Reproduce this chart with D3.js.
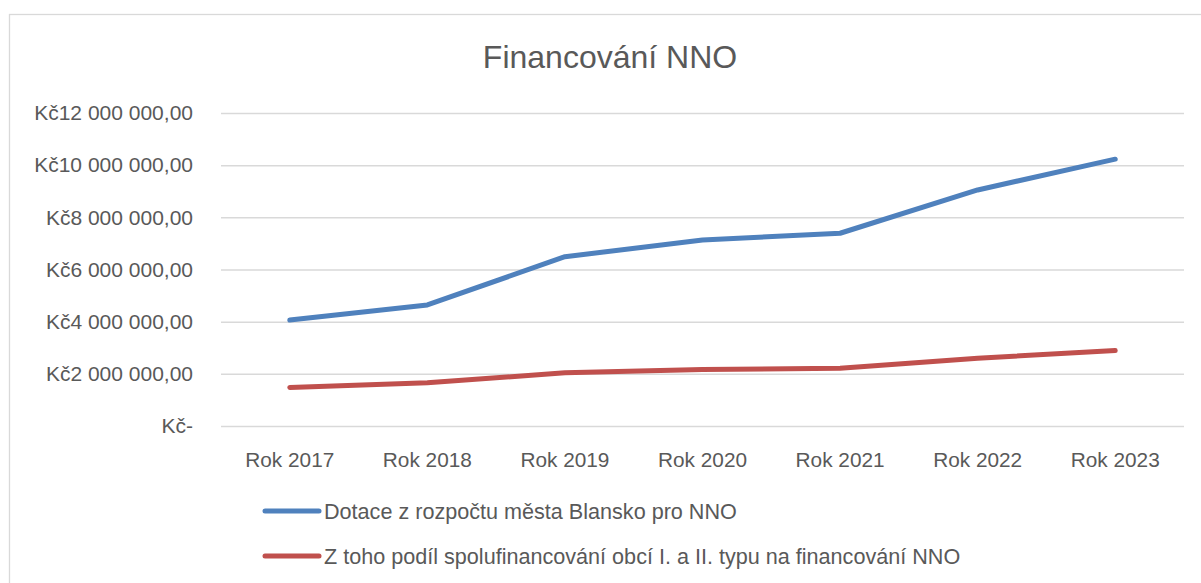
<!DOCTYPE html>
<html>
<head>
<meta charset="utf-8">
<script src="https://cdn.jsdelivr.net/npm/d3@7"></script>
<style>
  html, body { margin: 0; padding: 0; background: #fff; }
  svg { display: block; font-family: "Liberation Sans", Arial, sans-serif; }
</style>
</head>
<body>
<svg id="chart" width="1201" height="583"></svg>
<script>
const categories = ["Rok 2017", "Rok 2018", "Rok 2019", "Rok 2020", "Rok 2021", "Rok 2022", "Rok 2023"];
const dotace = [4060000, 4640000, 6490000, 7130000, 7390000, 9050000, 10230000];
const spolufin = [1480000, 1660000, 2040000, 2170000, 2210000, 2600000, 2890000];
const seriesNames = [
  "Dotace z rozpočtu města Blansko pro NNO",
  "Z toho podíl spolufinancování obcí I. a II. typu na financování NNO"
];
const yTicks = [0, 2000000, 4000000, 6000000, 8000000, 10000000, 12000000];
const title = "Financování NNO";

const svg = d3.select("#chart");
const textColor = "#595959";
const gridColor = "#d9d9d9";
const colors = ["#4f81bd", "#c0504d"];

// chart area border (right and bottom edges lie outside the view)
svg.append("rect")
  .attr("x", 9.5).attr("y", 14.5)
  .attr("width", 1300).attr("height", 700)
  .attr("fill", "none").attr("stroke", gridColor).attr("stroke-width", 1.3);

const plot = { left: 221, right: 1184, top: 113, bottom: 426 };

const x = d3.scaleBand().domain(categories).range([plot.left, plot.right]);
const y = d3.scaleLinear().domain([0, 12000000]).range([plot.bottom, plot.top]);

// title
svg.append("text")
  .attr("x", 610).attr("y", 68)
  .attr("text-anchor", "middle")
  .attr("font-size", 32)
  .attr("fill", textColor)
  .text(title);

function fmt(v) {
  if (v === 0) return "Kč-";
  const s = String(v).replace(/\B(?=(\d{3})+(?!\d))/g, " ");
  return "Kč" + s + ",00";
}

// y axis with gridlines
const yAxis = d3.axisLeft(y)
  .tickValues(yTicks)
  .tickSize(-(plot.right - plot.left))
  .tickPadding(28)
  .tickFormat(fmt);

const gy = svg.append("g")
  .attr("transform", `translate(${plot.left},0)`)
  .call(yAxis);
gy.select(".domain").remove();
gy.selectAll(".tick line").attr("stroke", gridColor).attr("stroke-width", 1.5);
gy.selectAll(".tick text")
  .attr("font-size", 21)
  .attr("fill", textColor)
  .attr("font-family", "Liberation Sans, Arial, sans-serif");

// x axis
const xAxis = d3.axisBottom(x).tickSize(0).tickPadding(26);
const gx = svg.append("g")
  .attr("transform", `translate(0,${plot.bottom})`)
  .call(xAxis);
gx.select(".domain").remove();
gx.selectAll(".tick text")
  .attr("font-size", 20.8)
  .attr("fill", textColor)
  .attr("font-family", "Liberation Sans, Arial, sans-serif");

// lines
const line = d3.line()
  .x((d, i) => x(categories[i]) + x.bandwidth() / 2)
  .y(d => y(d));

[dotace, spolufin].forEach((data, k) => {
  svg.append("path")
    .datum(data)
    .attr("d", line)
    .attr("fill", "none")
    .attr("stroke", colors[k])
    .attr("stroke-width", 5)
    .attr("stroke-linecap", "round")
    .attr("stroke-linejoin", "round");
});

// legend
const legendY = [511, 556];
seriesNames.forEach((name, k) => {
  const g = svg.append("g").attr("transform", `translate(265,${legendY[k]})`);
  g.append("line")
    .attr("x1", 0).attr("x2", 54)
    .attr("y1", 0).attr("y2", 0)
    .attr("stroke", colors[k])
    .attr("stroke-width", 5)
    .attr("stroke-linecap", "round");
  g.append("text")
    .attr("x", 59).attr("y", 7.5)
    .attr("font-size", 21.6)
    .attr("fill", textColor)
    .text(name);
});
</script>
</body>
</html>
